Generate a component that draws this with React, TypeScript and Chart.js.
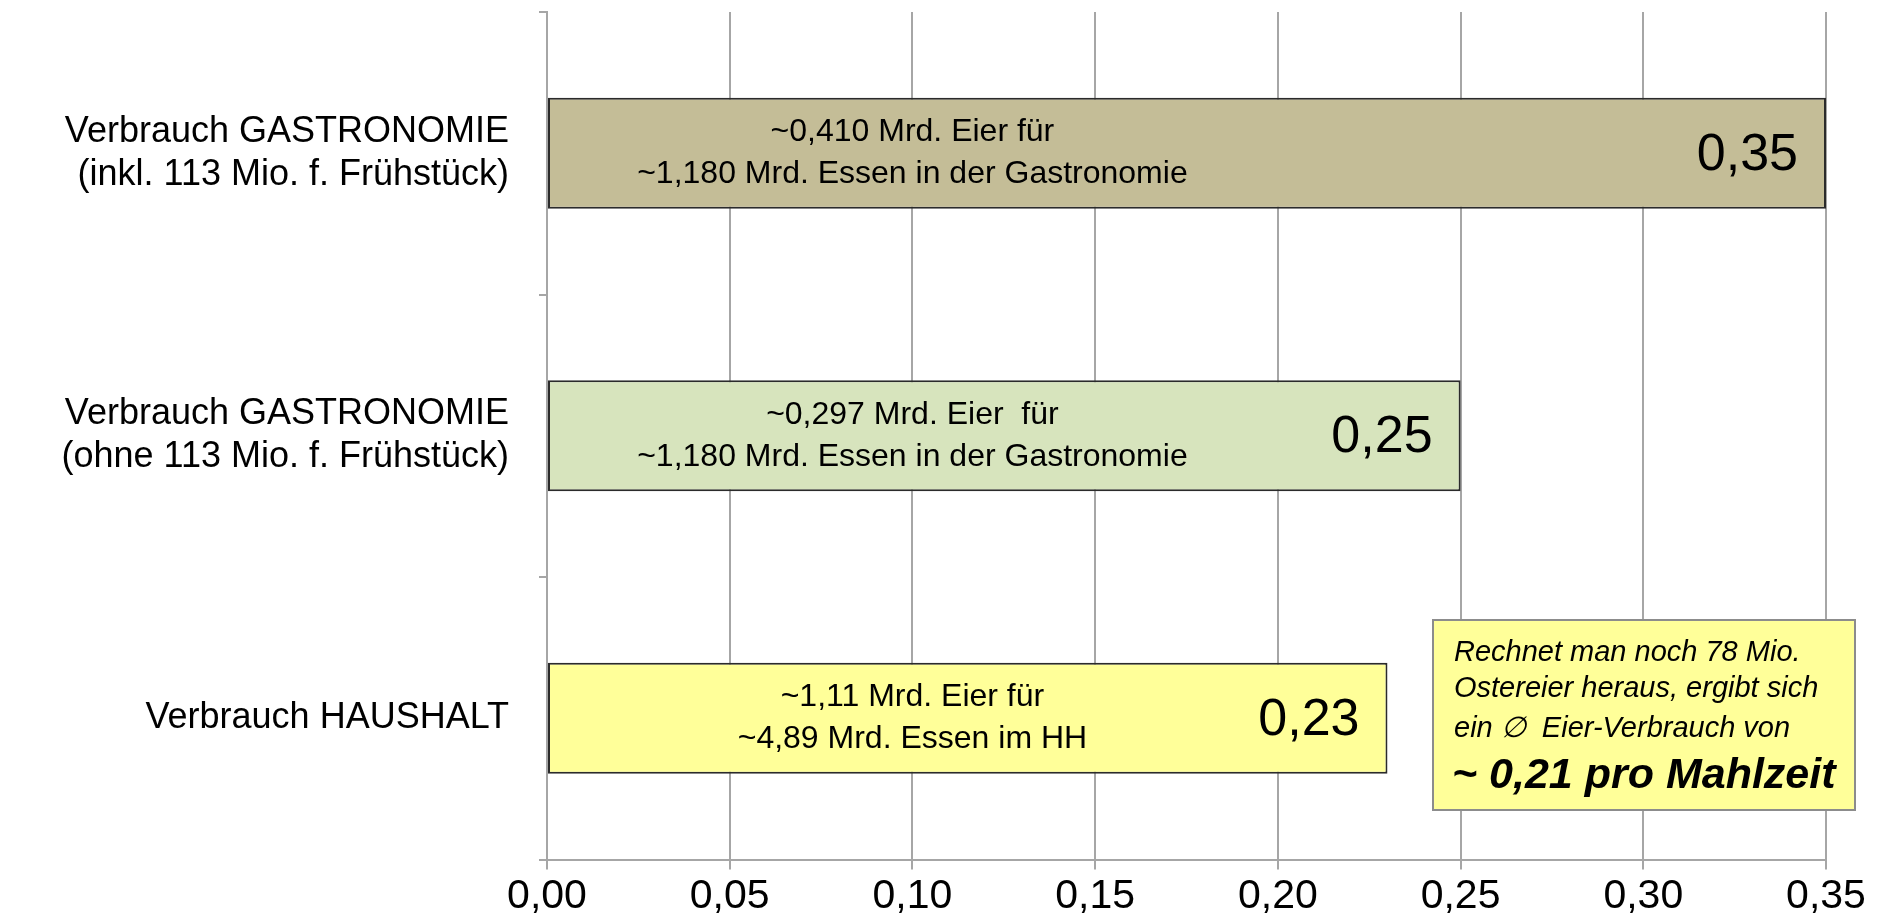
import React, { useEffect, useRef } from 'react';
import { Chart, registerables } from 'chart.js';

Chart.register(...registerables);

const categories: (string | string[])[] = [
  ['Verbrauch GASTRONOMIE', '(inkl. 113 Mio. f. Frühstück)'],
  ['Verbrauch GASTRONOMIE', '(ohne 113 Mio. f. Frühstück)'],
  'Verbrauch HAUSHALT',
];
const values = [0.35, 0.25, 0.23];
const barColors = ['#C4BD97', '#D7E4BD', '#FFFF99'];
const innerLines = [
  ['~0,410 Mrd. Eier für', '~1,180 Mrd. Essen in der Gastronomie'],
  ['~0,297 Mrd. Eier  für', '~1,180 Mrd. Essen in der Gastronomie'],
  ['~1,11 Mrd. Eier für', '~4,89 Mrd. Essen im HH'],
];
const innerTextCenterValue = 0.1;
const xTickValues = [0, 0.05, 0.1, 0.15, 0.2, 0.25, 0.3, 0.35];
const noteLines = ['Rechnet man noch 78 Mio.', 'Ostereier heraus, ergibt sich', 'ein \u2205  Eier-Verbrauch von'];
const noteResult = '~ 0,21 pro Mahlzeit';

const FONT = '"Liberation Sans", Arial, Helvetica, sans-serif';
const fmt = (v: number) => v.toFixed(2).replace('.', ',');

const textPlugin = {
  id: 'barTexts',
  afterDatasetsDraw(chart: any) {
    const ctx = chart.ctx;
    const meta = chart.getDatasetMeta(0);
    const xs = chart.scales.x;
    meta.data.forEach((bar: any, i: number) => {
      const { x, y } = bar.getProps(['x', 'y'], true);
      ctx.save();
      ctx.fillStyle = '#000';
      ctx.font = `32px ${FONT}`;
      ctx.textAlign = 'center';
      ctx.textBaseline = 'middle';
      const cx = xs.getPixelForValue(innerTextCenterValue);
      innerLines[i].forEach((t, k) => ctx.fillText(t, cx, y + (k - 0.5) * 42));
      ctx.font = `52px ${FONT}`;
      ctx.textAlign = 'right';
      ctx.fillText(fmt(values[i]), x - 28, y + 2);
      ctx.restore();
    });
  },
  afterDraw(chart: any) {
    const ctx = chart.ctx;
    ctx.save();
    ctx.fillStyle = '#FFFF99';
    ctx.fillRect(1433, 620, 422, 190);
    ctx.strokeStyle = '#8C8C8C';
    ctx.lineWidth = 2;
    ctx.strokeRect(1433, 620, 422, 190);
    ctx.fillStyle = '#000';
    ctx.textAlign = 'left';
    ctx.textBaseline = 'middle';
    ctx.font = `italic 29px ${FONT}`;
    const ys = [653, 689, 729];
    noteLines.forEach((t, k) => ctx.fillText(t, 1454, ys[k]));
    ctx.font = `italic bold 43px ${FONT}`;
    ctx.fillText(noteResult, 1452, 776);
    ctx.restore();
  },
};

export default function App() {
  const ref = useRef<HTMLCanvasElement>(null);
  useEffect(() => {
    if (!ref.current) return;
    const chart = new Chart(ref.current, {
      type: 'bar',
      data: {
        labels: categories,
        datasets: [
          {
            data: values,
            backgroundColor: barColors,
            borderColor: '#2B2B2B',
            borderWidth: 2,
            borderSkipped: false,
            barPercentage: 0.393,
            categoryPercentage: 1,
          },
        ],
      },
      options: {
        indexAxis: 'y',
        animation: false,
        responsive: true,
        maintainAspectRatio: false,
        layout: { padding: { top: 12, right: 51, left: 0, bottom: 0 } },
        plugins: { legend: { display: false }, tooltip: { enabled: false } },
        scales: {
          x: {
            type: 'linear',
            min: 0,
            max: 0.35,
            afterBuildTicks: (scale: any) => {
              scale.ticks = xTickValues.map((v) => ({ value: v }));
            },
            afterFit: (scale: any) => {
              scale.height = 61.5;
              scale.paddingLeft = 0;
              scale.paddingRight = 0;
            },
            ticks: {
              color: '#000',
              font: { family: FONT, size: 41 },
              padding: 3,
              callback: (v: any) => fmt(Number(v)),
              maxRotation: 0,
              autoSkip: false,
            },
            grid: { color: '#A6A6A6', lineWidth: 2, tickLength: 10, drawTicks: true },
            border: { display: true, color: '#A6A6A6', width: 2 },
          },
          y: {
            type: 'category',
            offset: true,
            afterFit: (scale: any) => {
              scale.width = 547;
              scale.paddingTop = 0;
              scale.paddingBottom = 0;
            },
            ticks: {
              color: '#000',
              font: { family: FONT, size: 36, lineHeight: 1.2 },
              padding: 30,
              autoSkip: false,
            },
            grid: { offset: true, drawOnChartArea: false, drawTicks: true, tickLength: 8, color: '#A6A6A6', lineWidth: 2 },
            border: { display: true, color: '#A6A6A6', width: 2 },
          },
        },
      },
      plugins: [textPlugin],
    });
    return () => chart.destroy();
  }, []);
  return (
    <div style={{ position: 'fixed', left: 0, top: 0, width: 1877, height: 921, background: '#fff' }}>
      <canvas ref={ref} />
    </div>
  );
}
